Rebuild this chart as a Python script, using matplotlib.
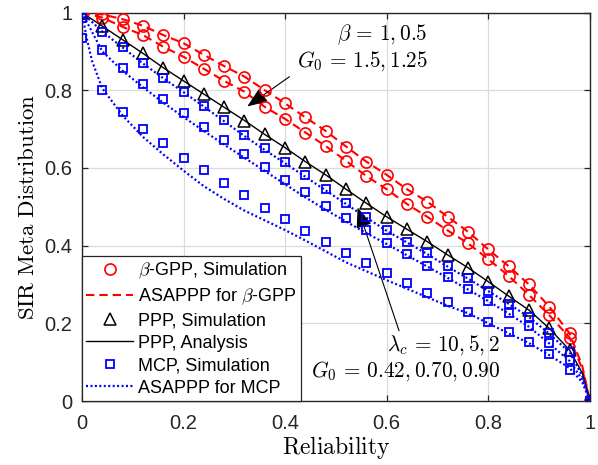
import matplotlib
matplotlib.use("Agg")
import matplotlib.pyplot as plt
from matplotlib.lines import Line2D

plt.rcParams['font.family'] = ['Liberation Sans', 'DejaVu Sans']
plt.rcParams['mathtext.fontset'] = 'cm'

# Reliability grid of the simulated points
x_sim = [0.00, 0.04, 0.08, 0.12, 0.16, 0.20, 0.24, 0.28, 0.32, 0.36, 0.40, 0.44, 0.48,
         0.52, 0.56, 0.60, 0.64, 0.68, 0.72, 0.76, 0.80, 0.84, 0.88, 0.92, 0.96, 1.00]

# beta-GPP simulation (beta = 1, G0 = 1.5 and beta = 0.5, G0 = 1.25)
gpp_b1 = [1.000, 0.995, 0.983, 0.966, 0.942, 0.921, 0.891, 0.862, 0.835, 0.800, 0.766, 0.730, 0.695,
          0.655, 0.616, 0.582, 0.545, 0.513, 0.474, 0.436, 0.390, 0.347, 0.300, 0.243, 0.174, 0.000]
gpp_b05 = [1.000, 0.987, 0.963, 0.942, 0.912, 0.886, 0.855, 0.824, 0.796, 0.757, 0.726, 0.691, 0.656,
           0.618, 0.579, 0.545, 0.507, 0.474, 0.439, 0.406, 0.365, 0.322, 0.273, 0.221, 0.163, 0.000]

# PPP simulation
ppp_sim = [1.000, 0.965, 0.930, 0.895, 0.858, 0.824, 0.790, 0.756, 0.722, 0.686, 0.652, 0.616, 0.582,
           0.545, 0.509, 0.474, 0.442, 0.410, 0.376, 0.343, 0.307, 0.270, 0.234, 0.187, 0.131, 0.000]

# MCP simulation (lambda_c = 10, 5, 2)
mcp_10 = [0.995, 0.951, 0.910, 0.869, 0.831, 0.795, 0.760, 0.723, 0.685, 0.650, 0.616, 0.582, 0.545,
          0.510, 0.474, 0.440, 0.410, 0.380, 0.347, 0.316, 0.284, 0.251, 0.217, 0.174, 0.127, 0.000]
mcp_5 = [0.985, 0.903, 0.856, 0.816, 0.777, 0.741, 0.705, 0.672, 0.637, 0.603, 0.570, 0.537, 0.503,
         0.470, 0.440, 0.408, 0.378, 0.348, 0.318, 0.288, 0.258, 0.226, 0.193, 0.150, 0.105, 0.000]
mcp_2 = [0.935, 0.800, 0.745, 0.700, 0.663, 0.626, 0.594, 0.560, 0.530, 0.498, 0.468, 0.438, 0.410,
         0.382, 0.354, 0.329, 0.303, 0.279, 0.254, 0.228, 0.204, 0.178, 0.151, 0.120, 0.081, 0.000]

# Analytical / ASAPPP curves
x_ana = [0.00, 0.04, 0.08, 0.12, 0.16, 0.20, 0.24, 0.28, 0.32, 0.36, 0.40, 0.44, 0.48,
         0.52, 0.56, 0.60, 0.64, 0.68, 0.72, 0.76, 0.80, 0.84, 0.88, 0.92, 0.96, 0.985, 1.00]
asa_b1 = [1.000, 0.995, 0.983, 0.966, 0.942, 0.921, 0.891, 0.862, 0.835, 0.800, 0.766, 0.730, 0.695,
          0.655, 0.616, 0.582, 0.545, 0.513, 0.474, 0.436, 0.390, 0.347, 0.300, 0.243, 0.174, 0.090, 0.000]
asa_b05 = [1.000, 0.987, 0.963, 0.942, 0.912, 0.886, 0.855, 0.824, 0.796, 0.757, 0.726, 0.691, 0.656,
           0.618, 0.579, 0.545, 0.507, 0.474, 0.439, 0.406, 0.365, 0.322, 0.273, 0.221, 0.163, 0.082, 0.000]
ppp_ana = [1.000, 0.965, 0.930, 0.895, 0.858, 0.824, 0.790, 0.756, 0.722, 0.686, 0.652, 0.616, 0.582,
           0.545, 0.509, 0.474, 0.442, 0.410, 0.376, 0.343, 0.307, 0.270, 0.234, 0.187, 0.131, 0.072, 0.000]
asa_10 = [1.000, 0.951, 0.910, 0.869, 0.831, 0.795, 0.758, 0.720, 0.682, 0.646, 0.612, 0.577, 0.542,
          0.507, 0.472, 0.438, 0.408, 0.378, 0.346, 0.315, 0.283, 0.250, 0.216, 0.173, 0.125, 0.065, 0.000]
asa_5 = [1.000, 0.900, 0.850, 0.808, 0.768, 0.731, 0.695, 0.660, 0.626, 0.592, 0.558, 0.524, 0.492,
         0.462, 0.432, 0.404, 0.375, 0.346, 0.317, 0.287, 0.257, 0.225, 0.191, 0.148, 0.103, 0.055, 0.000]
x_ana2 = [0.00, 0.01, 0.02, 0.04, 0.08, 0.12, 0.16, 0.20, 0.24, 0.28, 0.32, 0.36, 0.40, 0.44, 0.48,
          0.52, 0.56, 0.60, 0.64, 0.68, 0.72, 0.76, 0.80, 0.84, 0.88, 0.92, 0.96, 0.985, 1.00]
asa_2 = [1.000, 0.930, 0.875, 0.805, 0.735, 0.680, 0.635, 0.593, 0.553, 0.520, 0.490, 0.465, 0.440,
         0.413, 0.385, 0.357, 0.334, 0.311, 0.289, 0.267, 0.245, 0.226, 0.200, 0.174, 0.149, 0.118,
         0.085, 0.048, 0.000]

ticks = [0, 0.2, 0.4, 0.6, 0.8, 1]
tick_labels = ['0', '0.2', '0.4', '0.6', '0.8', '1']

fig = plt.figure(figsize=(5.98, 4.65), dpi=100)
ax = fig.add_axes([0.137, 0.1376, 0.8495, 0.8355])

red, blue, black = (1, 0, 0), (0, 0, 1), (0, 0, 0)
dash = (0, (4.0, 2.4))
dot = (0, (0.9, 1.1))

ax.plot(x_ana, asa_b1, color=red, lw=1.5, ls=dash, zorder=3)
ax.plot(x_ana, asa_b05, color=red, lw=1.5, ls=dash, zorder=3)
ax.plot(x_ana, ppp_ana, color=black, lw=1.0, zorder=3)
ax.plot(x_ana, asa_10, color=blue, lw=1.6, ls=dot, zorder=3)
ax.plot(x_ana, asa_5, color=blue, lw=1.6, ls=dot, zorder=3)
ax.plot(x_ana2, asa_2, color=blue, lw=1.6, ls=dot, zorder=3)

ms_kw = dict(ls='none', mfc='none', zorder=4)
ax.plot(x_sim, gpp_b1, marker='o', ms=8, mec=red, mew=1.2, **ms_kw)
ax.plot(x_sim, gpp_b05, marker='o', ms=8, mec=red, mew=1.2, **ms_kw)
ax.plot(x_sim, ppp_sim, marker='^', ms=8.5, mec=black, mew=1.1, **ms_kw)
for ys in (mcp_10, mcp_5, mcp_2):
    ax.plot(x_sim, ys, marker='s', ms=5.8, mec=blue, mew=1.3, **ms_kw)

ax.set_xlim(0, 1)
ax.set_ylim(0, 1)
ax.set_xticks(ticks)
ax.set_xticklabels(tick_labels)
ax.set_yticks(ticks)
ax.set_yticklabels(tick_labels)
ax.grid(True, color=(0.86, 0.86, 0.86), lw=0.9)
ax.set_axisbelow(True)
ax.tick_params(direction='in', length=4.5, width=0.9, top=True, right=True,
               labelsize=14.5, colors=(0.15, 0.15, 0.15))
ax.tick_params(axis='x', pad=9)
ax.tick_params(axis='y', pad=7)
for s in ax.spines.values():
    s.set_color((0.15, 0.15, 0.15))
    s.set_linewidth(1.0)

ax.set_xlabel(r'$\mathrm{Reliability}$', fontsize=17, labelpad=1)
ax.set_ylabel(r'$\mathrm{SIR\ Meta\ Distribution}$', fontsize=16.5, labelpad=4)

# Parameter annotations
ax.text(0.681, 0.942, r'$\beta\,=\,1, 0.5$', fontsize=15.3, ha='right', va='center')
ax.text(0.681, 0.876, r'$G_0\,=\,1.5, 1.25$', fontsize=15.3, ha='right', va='center')
ax.annotate('', xy=(0.321, 0.754), xytext=(0.413, 0.839),
            arrowprops=dict(arrowstyle='-|>,head_length=0.9,head_width=0.35',
                            color='black', lw=0.8, mutation_scale=14))
ax.text(0.823, 0.144, r'$\lambda_c\,=\,10, 5, 2$', fontsize=15.3, ha='right', va='center')
ax.text(0.823, 0.078, r'$G_0\,=\,0.42, 0.70, 0.90$', fontsize=15.3, ha='right', va='center')
ax.annotate('', xy=(0.541, 0.505), xytext=(0.626, 0.174),
            arrowprops=dict(arrowstyle='-|>,head_length=0.9,head_width=0.35',
                            color='black', lw=0.8, mutation_scale=14))

handles = [
    Line2D([], [], ls='none', marker='o', ms=8, mfc='none', mec=red, mew=1.2),
    Line2D([], [], color=red, lw=1.5, ls=dash),
    Line2D([], [], ls='none', marker='^', ms=8.5, mfc='none', mec=black, mew=1.1),
    Line2D([], [], color=black, lw=1.0),
    Line2D([], [], ls='none', marker='s', ms=5.8, mfc='none', mec=blue, mew=1.3),
    Line2D([], [], color=blue, lw=1.6, ls=dot),
]
labels = [r'$\beta$-GPP, Simulation', r'ASAPPP for $\beta$-GPP', 'PPP, Simulation',
          'PPP, Analysis', 'MCP, Simulation', 'ASAPPP for MCP']
leg = ax.legend(handles, labels, loc='lower left', borderaxespad=0, fontsize=13,
                handlelength=2.6, handletextpad=0.25, labelspacing=0.3, borderpad=0.25,
                fancybox=False, framealpha=1, edgecolor=(0.15, 0.15, 0.15))
leg.get_frame().set_linewidth(0.9)

fig.savefig('out.png', dpi=100)
